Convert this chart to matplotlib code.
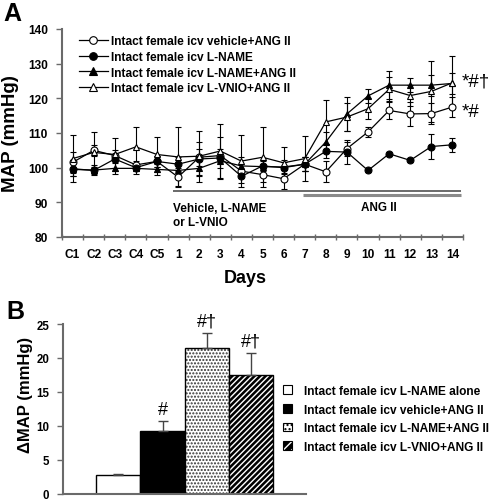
import numpy as np
import matplotlib
matplotlib.use("Agg")
import matplotlib.pyplot as plt
from matplotlib.patches import Patch
from matplotlib.lines import Line2D

plt.rcParams['font.family'] = ['Liberation Sans', 'DejaVu Sans']

# ---- panel A data ----
days = ['C1', 'C2', 'C3', 'C4', 'C5', '1', '2', '3', '4', '5', '6', '7',
        '8', '9', '10', '11', '12', '13', '14']

veh_ang = [101.5, 105.0, 103.5, 100.8, 101.8, 97.3, 103.0, 103.5, 99.0, 98.0,
           96.8, 101.0, 98.8, 105.5, 110.3, 116.5, 115.5, 115.6, 117.5]
veh_ang_err = [3.0, 1.5, 1.5, 1.0, 1.5, 2.5, 2.5, 2.0, 2.0, 2.0,
               3.0, 2.0, 3.0, 2.0, 1.5, 2.5, 3.5, 3.0, 3.0]

lname = [99.7, 99.2, 102.5, 100.0, 101.8, 101.0, 102.5, 102.8, 97.5, 100.5,
         100.0, 101.0, 104.7, 104.5, 99.2, 104.0, 102.1, 106.1, 106.6]
lname_err = [2.0, 1.0, 1.0, 1.0, 1.5, 2.0, 5.0, 6.0, 2.0, 1.5,
             1.5, 2.0, 2.0, 3.5, 0.5, 0.5, 0.5, 3.5, 2.0]

lname_ang = [99.5, 99.3, 99.8, 99.8, 99.5, 99.2, 99.8, 102.0, 100.5, 100.3,
             100.2, 101.0, 107.4, 115.5, 120.7, 123.8, 123.8, 123.8, 124.3]
lname_ang_err = [2.0, 1.5, 1.5, 1.5, 1.5, 2.0, 2.0, 2.0, 2.5, 2.0,
                 2.0, 2.0, 3.0, 5.0, 2.0, 4.0, 2.0, 3.0, 3.0]

lvnio_ang = [102.6, 104.4, 103.8, 106.0, 103.8, 103.1, 103.3, 104.8, 101.9, 103.0,
             101.4, 102.6, 113.2, 114.6, 117.0, 122.6, 120.8, 122.0, 124.5]
lvnio_ang_err = [6.7, 5.8, 4.8, 5.7, 5.0, 8.6, 7.4, 7.9, 7.4, 8.6,
                 4.6, 6.5, 6.4, 4.0, 3.0, 3.5, 3.0, 8.7, 7.7]

legend_a = ['Intact female icv vehicle+ANG II',
            'Intact female icv L-NAME',
            'Intact female icv L-NAME+ANG II',
            'Intact female icv L-VNIO+ANG II']

# ---- panel B data ----
groups_b = ['Intact female icv L-NAME alone',
            'Intact female icv vehicle+ANG II',
            'Intact female icv L-NAME+ANG II',
            'Intact female icv L-VNIO+ANG II']
dmap = [2.75, 9.27, 21.5, 17.5]
dmap_err = [0.1, 1.4, 2.2, 3.2]
marks_b = ['', '#', '#\u2020', '#\u2020']

fig = plt.figure(figsize=(4.92, 5.02), dpi=100)
spine_col = '#6a6a6a'

# ================= Panel A =================
axA = fig.add_axes([62 / 492, 1 - 238 / 502, 401 / 492, 208 / 502])
x = np.arange(len(days))
series = [(veh_ang, veh_ang_err, 'o', 'white'),
          (lname, lname_err, 'o', 'black'),
          (lname_ang, lname_ang_err, '^', 'black'),
          (lvnio_ang, lvnio_ang_err, '^', 'white')]
handles = []
for (y, e, m, fc), lab in zip(series, legend_a):
    axA.errorbar(x, y, yerr=e, color='black', lw=0.9, elinewidth=0.8,
                 capsize=2.3, capthick=0.8, marker=m, ms=5, mfc=fc, mec='black',
                 mew=0.8)
    handles.append(Line2D([0], [0], color='black', lw=0.9, marker=m, ms=5.5,
                          mfc=fc, mec='black', mew=0.8, label=lab))

axA.set_xlim(-0.43, 18.5)
axA.set_ylim(80, 140)
axA.set_yticks(np.arange(80, 141, 10))
axA.set_xticks(np.arange(-0.5, 18.6, 1))
axA.set_xticklabels([])
axA.set_xticks(x, minor=True)
axA.set_xticklabels(days, minor=True, fontsize=8.6, fontweight='bold')
axA.tick_params(axis='x', which='major', direction='inout', length=4,
                width=1, color=spine_col)
axA.tick_params(axis='x', which='minor', length=0, pad=8)
axA.tick_params(axis='y', direction='out', length=4, width=1, color=spine_col,
                labelsize=8.6, pad=6)
for lab in axA.get_yticklabels():
    lab.set_fontweight('bold')
for s in ['top', 'right']:
    axA.spines[s].set_visible(False)
for s in ['left', 'bottom']:
    axA.spines[s].set_color(spine_col)
    axA.spines[s].set_linewidth(1.5)

axA.set_ylabel('MAP (mmHg)', fontsize=13.5, fontweight='bold')
axA.yaxis.set_label_coords(-0.108, 0.5)
axA.set_xlabel('Days', fontsize=13, fontweight='bold')
axA.xaxis.set_label_coords(0.456, -0.155)

axA.text(18.45, 125.0, '*#\u2020', fontsize=13.5, va='center', ha='left',
         clip_on=False)
axA.text(18.45, 116.1, '*#', fontsize=13.5, va='center', ha='left',
         clip_on=False)

axA.hlines(93.2, 4.78, 18.4, color='#505050', lw=1.2)
axA.hlines(92.0, 10.94, 18.4, color='#8a8a8a', lw=2.2)
axA.text(4.78, 90.2, 'Vehicle, L-NAME\nor L-VNIO', fontsize=8.5,
         fontweight='bold', va='top', ha='left', linespacing=1.25)
axA.text(14.5, 88.7, 'ANG II', fontsize=8.5, fontweight='bold',
         va='center', ha='center')

fig.legend(handles=handles, loc='upper left',
           bbox_to_anchor=(79 / 492, 1 - 36 / 502), frameon=False,
           borderpad=0, borderaxespad=0, handlelength=2.4,
           handletextpad=0.25, labelspacing=0.32,
           prop={'size': 8.6, 'weight': 'bold'})

fig.text(0.006, 0.997, 'A', fontsize=18, fontweight='bold', va='top',
         ha='left')

# ================= Panel B =================
axB = fig.add_axes([63.3 / 492, 1 - 494.5 / 502, 242.4 / 492, 169.5 / 502])
xb = np.arange(len(dmap))
axB.bar(xb[0], dmap[0], width=1, color='white', edgecolor='black', lw=1)
axB.bar(xb[1], dmap[1], width=1, color='black', edgecolor='black', lw=1)
axB.bar(xb[2], dmap[2], width=1, color='white', edgecolor='#333333',
        hatch='.....', lw=0)
axB.bar(xb[2], dmap[2], width=1, fill=False, edgecolor='black', lw=1)
axB.bar(xb[3], dmap[3], width=1, color='black', edgecolor='white',
        hatch='//////', lw=0)
axB.bar(xb[3], dmap[3], width=1, fill=False, edgecolor='black', lw=1)
axB.errorbar(xb, dmap, yerr=[np.zeros(len(dmap)), dmap_err], fmt='none',
             ecolor='#444444', elinewidth=1, capsize=3.5, capthick=1)
for xi, v, e, t in zip(xb, dmap, dmap_err, marks_b):
    axB.text(xi, v + e + 0.5, t, fontsize=13, ha='center', va='bottom')

axB.set_xlim(-1.24, 4.23)
axB.set_ylim(0, 25)
axB.set_yticks(np.arange(0, 26, 5))
axB.set_xticks([])
axB.tick_params(axis='y', direction='out', length=4, width=1,
                color=spine_col, labelsize=8.3, pad=6)
for lab in axB.get_yticklabels():
    lab.set_fontweight('bold')
for s in ['top', 'right']:
    axB.spines[s].set_visible(False)
for s in ['left', 'bottom']:
    axB.spines[s].set_color(spine_col)
    axB.spines[s].set_linewidth(1.5)
axB.set_ylabel('\u0394MAP (mmHg)', fontsize=12, fontweight='bold')
axB.yaxis.set_label_coords(-0.125, 0.59)

handles_b = [Patch(facecolor='white', edgecolor='black', lw=0.8),
             Patch(facecolor='black', edgecolor='black', lw=0.8),
             Patch(facecolor='white', edgecolor='black', hatch='....', lw=0.8),
             (Patch(facecolor='black', edgecolor='white', hatch='////', lw=0),
              Patch(fill=False, edgecolor='black', lw=0.8))]
fig.legend(handles=handles_b, labels=groups_b, loc='upper left',
           bbox_to_anchor=(283 / 492, 1 - 386 / 502), frameon=False,
           borderpad=0, borderaxespad=0, handlelength=0.75, handleheight=0.75,
           handletextpad=1.0, labelspacing=0.55,
           prop={'size': 8.6, 'weight': 'bold'})

fig.text(0.012, 1 - 300 / 502, 'B', fontsize=18, fontweight='bold',
         va='top', ha='left')

fig.savefig('out.png', dpi=100)
